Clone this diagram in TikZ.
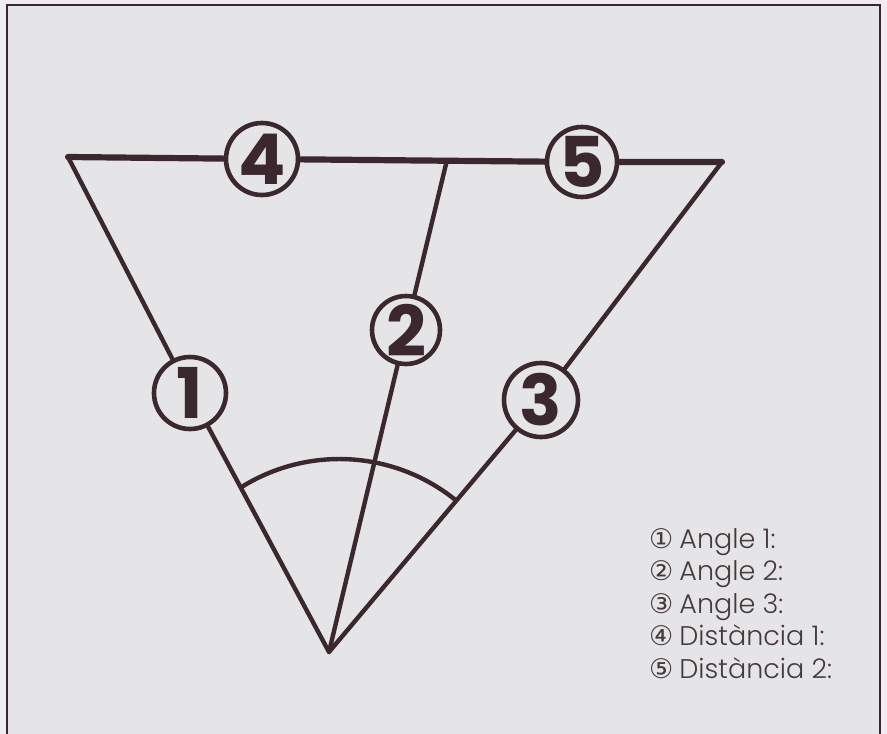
\documentclass[tikz,border=0pt]{standalone}
\usepackage{fontspec}
\newfontfamily\legendfont{Poppins}[UprightFont=* Light]
\newfontfamily\bigdigit{Poppins}[UprightFont=* Bold]
\newfontfamily\symfont{DejaVu Sans}
\definecolor{ink}{RGB}{58,40,46}
\definecolor{legendink}{RGB}{70,58,62}
\definecolor{paper}{RGB}{229,229,231}
\definecolor{outer}{RGB}{238,238,240}
\tikzset{
  numcircle/.style={circle, draw=ink, line width=4.6pt, inner sep=0pt,
    font=\bigdigit\fontsize{70}{70}\selectfont, text=ink},
  sideline/.style={draw=ink, line width=4.4pt, line join=round, line cap=round},
  topline/.style={draw=ink, line width=6.2pt, line join=round, line cap=round},
  legend/.style={anchor=base west, inner sep=0pt, text=legendink,
    font=\legendfont\fontsize{27}{27}\selectfont},
}
\begin{document}
\begin{tikzpicture}[x=1pt,y=-1pt]
\useasboundingbox (0,0) rectangle (887,734);
\clip (0,0) rectangle (887,734);
\fill[outer] (0,0) rectangle (887,734);
\fill[paper] (7,5) rectangle (880,760);
\draw[ink, line width=2pt] (7,760) -- (7,5) -- (880,5) -- (880,760);

% points
\coordinate (apex) at (329,652);
\coordinate (TL) at (68,157);
\coordinate (TR) at (722,162);
\coordinate (TM) at (447,160);

% numbered circles
\node[numcircle, minimum size=72pt] (c1) at (190,393) {1};
\node[numcircle, minimum size=68pt] (c2) at (406,330) {2};
\node[numcircle, minimum size=74pt] (c3) at (541,400) {3};
\node[numcircle, minimum size=72pt] (c4) at (262,159) {4};
\node[numcircle, minimum size=70pt] (c5) at (582,162) {5};

% top line
\draw[topline] (TL) -- (c4) (c4) -- (c5) (c5) -- (TR);
% sides
\draw[sideline] (TL) -- (c1) (c1) -- (apex) -- (c3) (c3) -- (TR);
\draw[sideline] (apex) -- (c2) (c2) -- (TM);

% angle arc
\draw[ink, line width=4.4pt] (240,488) arc[start angle=122.5, end angle=51.1, radius=185pt];

% legend
\node[legend] (l1) at (649,548) {{\symfont ①}\hspace{6pt}Angle 1:};
\node[legend] (l2) at (649,580.5) {{\symfont ②}\hspace{6pt}Angle 2:};
\node[legend] (l3) at (649,613) {{\symfont ③}\hspace{6pt}Angle 3:};
\node[legend] (l4) at (649,645.5) {{\symfont ④}\hspace{6pt}Distància 1:};
\node[legend] (l5) at (649,678) {{\symfont ⑤}\hspace{6pt}Distància 2:};
\end{tikzpicture}
\end{document}
